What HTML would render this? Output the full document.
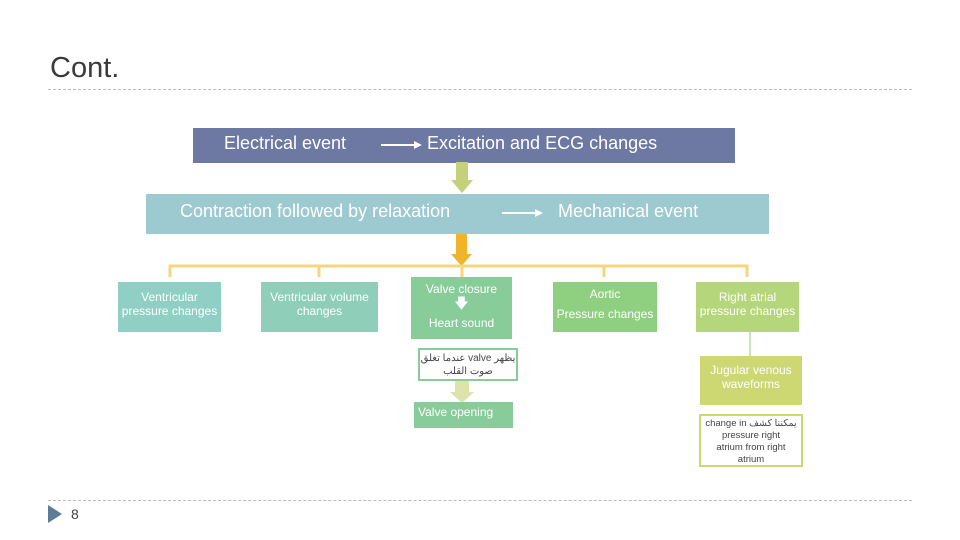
<!DOCTYPE html>
<html><head><meta charset="utf-8"><style>
body{margin:0;width:960px;height:540px;background:#fff;position:relative;overflow:hidden;font-family:"Liberation Sans","Noto Sans CJK SC",sans-serif}
.a{position:absolute;box-sizing:border-box}
.t{color:#fff;text-align:center;line-height:1.2}
</style></head><body>
<div class="a" style="left:50px;top:52px;font-size:29px;color:#3a3a3a">Cont.</div>
<div class="a" style="left:48px;top:89px;width:864px;border-top:1px dashed #bbb"></div>

<div class="a" style="left:193px;top:128px;width:542px;height:35px;background:#6e79a3"></div>
<div class="a" style="left:224px;top:133px;font-size:18px;color:#fff">Electrical event</div>
<div class="a" style="left:427px;top:133px;font-size:18px;color:#fff">Excitation and ECG changes</div>
<svg class="a" style="left:0;top:0" width="960" height="540">
<line x1="381" y1="145" x2="416" y2="145" stroke="#fff" stroke-width="2"/><polygon points="414,141 422,145 414,149" fill="#fff"/>
</svg>

<div class="a" style="left:146px;top:194px;width:623px;height:40px;background:#9dc9d1"></div>
<div class="a" style="left:180px;top:201px;font-size:18px;color:#fff">Contraction followed by relaxation</div>
<div class="a" style="left:558px;top:201px;font-size:18px;color:#fff">Mechanical event</div>

<svg class="a" style="left:0;top:0" width="960" height="540">
<line x1="502" y1="213" x2="536" y2="213" stroke="#fff" stroke-width="2"/><polygon points="535,209 543,213 535,217" fill="#fff"/>
<rect x="456" y="162" width="12" height="20" fill="#c5d07a"/><polygon points="451,180 473,180 462,193" fill="#c5d07a"/>
<rect x="456" y="234" width="11" height="22" fill="#f0b429"/><polygon points="451,254 472,254 461.5,266" fill="#f0b429"/>
<path d="M170,277 V266 H747 V277 M319,266 V277 M462,266 V277 M604,266 V277" fill="none" stroke="#f5d580" stroke-width="3"/>
<line x1="750" y1="322" x2="750" y2="356" stroke="#8fcf6f" stroke-width="1"/>
<polygon points="455,380 469,380 469,392 474,392 462,403 450,392 455,392" fill="#dde3aa"/>
</svg>

<div class="a t" style="left:118px;top:282px;width:103px;height:50px;background:#8fcfc4;font-size:12px;padding-top:8px">Ventricular<br>pressure changes</div>
<div class="a t" style="left:261px;top:282px;width:117px;height:50px;background:#8fcfb9;font-size:12px;padding-top:8px">Ventricular volume<br>changes</div>
<div class="a t" style="left:411px;top:277px;width:101px;height:62px;background:#88cc99;font-size:12px">
<div style="padding-top:5px">Valve closure</div>
<div style="font-size:14px;line-height:14px">&#129095;</div>
<div style="padding-top:6px">Heart sound</div></div>
<div class="a t" style="left:553px;top:282px;width:104px;height:50px;background:#8fcf80;font-size:12px;line-height:20px;padding-top:2px">Aortic<br>Pressure changes</div>
<div class="a t" style="left:696px;top:282px;width:103px;height:50px;background:#b5d67a;font-size:12px;padding-top:8px">Right atrial<br>pressure changes</div>

<div class="a" style="left:418px;top:348px;width:100px;height:33px;border:2px solid #88cc99;background:#fff;font-size:10px;color:#444;text-align:center;line-height:1.3;padding-top:2px">عندما تغلق valve يظهر<br>صوت القلب</div>
<div class="a t" style="left:414px;top:402px;width:99px;height:26px;background:#88cc99;font-size:12px;text-align:left;padding:3px 0 0 4px">Valve opening</div>

<div class="a t" style="left:700px;top:356px;width:102px;height:49px;background:#cdd873;font-size:12px;padding-top:7px">Jugular venous<br>waveforms</div>
<div class="a" style="left:699px;top:414px;width:104px;height:53px;border:2px solid #cdd873;background:#fff;font-size:9.5px;color:#444;text-align:center;line-height:1.25;padding-top:2px">change in يمكننا كشف<br>pressure right<br>atrium from right<br>atrium</div>

<div class="a" style="left:48px;top:500px;width:864px;border-top:1px dashed #bbb"></div>
<svg class="a" style="left:46px;top:505px" width="20" height="20"><polygon points="2,0 16,9 2,18" fill="#5b7d95"/></svg>
<div class="a" style="left:71px;top:506px;font-size:14px;color:#444">8</div>
</body></html>
